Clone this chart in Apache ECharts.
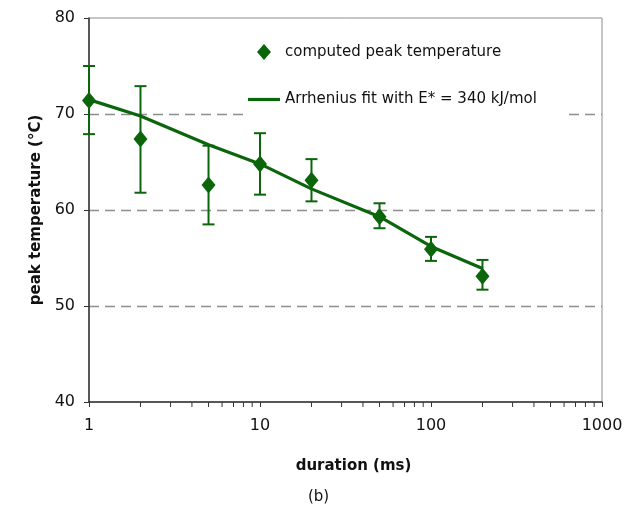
<!DOCTYPE html>
<html>
<head>
<meta charset="utf-8">
<script src="https://cdn.jsdelivr.net/npm/echarts@6/dist/echarts.min.js"></script>
<style>html,body{margin:0;padding:0;background:#fff;}#c{width:633px;height:509px;}</style>
</head>
<body>
<div id="c"></div>
<script>
// duration (ms)
const durations = [1, 2, 5, 10, 20, 50, 100, 200];
// computed peak temperature (°C)
const peakTemp = [71.4, 67.4, 62.6, 64.8, 63.1, 59.3, 55.9, 53.1];
const errLow  = [67.9, 61.8, 58.5, 61.6, 60.9, 58.1, 54.7, 51.7];
const errHigh = [75.0, 72.9, 66.7, 68.0, 65.3, 60.7, 57.2, 54.8];
// Arrhenius fit values
const fitTemp = [71.5, 69.8, 66.8, 64.8, 62.2, 59.3, 56.2, 53.9];
// axis ticks
const xTickLabels = [1, 10, 100, 1000];
const minorTicks = [2,3,4,5,6,7,8,9,20,30,40,50,60,70,80,90,200,300,400,500,600,700,800,900];
const yTicks = [40, 50, 60, 70, 80];

const green = '#0b650b';
const font = 'DejaVu Sans';
const legendText = {fontFamily: font, fontSize: 15, color: '#111'};

const chart = echarts.init(document.getElementById('c'));
chart.setOption({
  animation: false,
  backgroundColor: '#fff',
  textStyle: {fontFamily: font},
  grid: {left: 89, right: 31, top: 18, bottom: 107, show: true, borderColor: '#8c8c8c', borderWidth: 1, backgroundColor: 'transparent'},
  legend: [
    {
      orient: 'vertical', left: 252, top: 34,
      padding: [10, 30, 4, 5],
      backgroundColor: '#fff',
      itemWidth: 32, itemHeight: 16,
      textStyle: legendText,
      data: [{name: 'computed peak temperature', icon: 'path://M7,0 L14,8 L7,16 L0,8 Z', itemStyle: {color: green}}]
    },
    {
      orient: 'vertical', left: 243, top: 82,
      padding: [10, 30, 14, 5],
      backgroundColor: '#fff',
      itemWidth: 32, itemHeight: 16,
      textStyle: legendText,
      data: [{name: 'Arrhenius fit with E* = 340 kJ/mol', icon: 'path://M0,0 L32,0 L32,3.2 L0,3.2 Z', itemStyle: {color: green}}]
    }
  ],
  xAxis: {
    type: 'log', logBase: 10, min: xTickLabels[0], max: xTickLabels[xTickLabels.length - 1],
    name: 'duration (ms)', nameLocation: 'middle', nameGap: 57,
    nameTextStyle: {fontFamily: font, fontSize: 15, fontWeight: 'bold', color: '#111', padding: [0, 0, 0, 16]},
    axisLine: {lineStyle: {color: '#333', width: 1.5}},
    axisTick: {show: true, inside: false, length: 5, lineStyle: {color: '#333'}},
    axisLabel: {fontSize: 16, color: '#111', margin: 16, formatter: v => String(v)},
    splitLine: {show: false}
  },
  yAxis: {
    type: 'value', min: yTicks[0], max: yTicks[yTicks.length - 1], interval: 10,
    name: 'peak temperature (°C)', nameLocation: 'middle', nameGap: 44,
    nameTextStyle: {fontFamily: font, fontSize: 15, fontWeight: 'bold', color: '#111'},
    axisLine: {show: true, lineStyle: {color: '#333', width: 1.5}},
    axisTick: {show: true, inside: false, length: 5, lineStyle: {color: '#333'}},
    axisLabel: {fontSize: 16, color: '#111', margin: 14},
    splitLine: {show: true, showMinLine: false, showMaxLine: false, lineStyle: {color: '#8c8c8c', width: 1.3, type: [10, 6]}}
  },
  graphic: [
    {type: 'text', left: 308, top: 490, style: {text: '(b)', font: '15px "DejaVu Sans"', fill: '#111'}}
  ],
  series: [
    {
      type: 'custom', name: 'minor ticks', silent: true, z: 1,
      data: minorTicks.map(v => [v, yTicks[0]]),
      renderItem: function (params, api) {
        const p = api.coord([api.value(0), api.value(1)]);
        return {type: 'line', shape: {x1: p[0], y1: p[1], x2: p[0], y2: p[1] + 5}, style: {stroke: '#333', lineWidth: 1}};
      }
    },
    {
      type: 'custom', name: 'error bars', silent: true, z: 2,
      data: durations.map((d, i) => [d, errLow[i], errHigh[i]]),
      renderItem: function (params, api) {
        const lo = api.coord([api.value(0), api.value(1)]);
        const hi = api.coord([api.value(0), api.value(2)]);
        const w = 6;
        const st = {stroke: green, lineWidth: 2};
        return {type: 'group', children: [
          {type: 'line', shape: {x1: lo[0], y1: lo[1], x2: hi[0], y2: hi[1]}, style: st},
          {type: 'line', shape: {x1: lo[0] - w, y1: lo[1], x2: lo[0] + w, y2: lo[1]}, style: st},
          {type: 'line', shape: {x1: hi[0] - w, y1: hi[1], x2: hi[0] + w, y2: hi[1]}, style: st}
        ]};
      }
    },
    {
      type: 'line', name: 'Arrhenius fit with E* = 340 kJ/mol', z: 3,
      data: durations.map((d, i) => [d, fitTemp[i]]),
      showSymbol: false, symbol: 'none', smooth: false,
      lineStyle: {color: green, width: 3.2}, itemStyle: {color: green}
    },
    {
      type: 'scatter', name: 'computed peak temperature', z: 4,
      data: durations.map((d, i) => [d, peakTemp[i]]),
      symbol: 'diamond', symbolSize: [14, 17],
      itemStyle: {color: green, opacity: 1}
    }
  ]
});
</script>
</body>
</html>
